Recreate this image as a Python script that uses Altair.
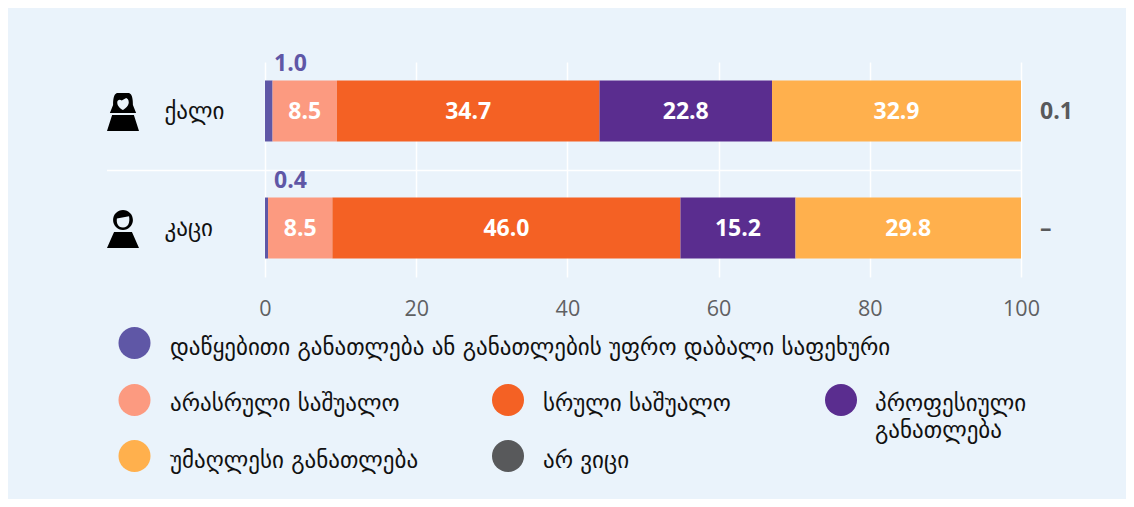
import altair as alt
import pandas as pd

groups = ["ქალი", "კაცი"]
categories = [
    "დაწყებითი განათლება ან განათლების უფრო დაბალი საფეხური",
    "არასრული საშუალო",
    "სრული საშუალო",
    "პროფესიული\nგანათლება",
    "უმაღლესი განათლება",
    "არ ვიცი",
]
colors = ["#5F57A6", "#FC9A80", "#F46124", "#5A2D8F", "#FFB04D", "#58595B"]
women = [1.0, 8.5, 34.7, 22.8, 32.9, 0.1]
men = [0.4, 8.5, 46.0, 15.2, 29.8, 0.0]
tick_values = [0, 20, 40, 60, 80, 100]
outside_labels_left = ["1.0", "0.4"]
outside_labels_right = ["0.1", "–"]

BG = "#EAF3FB"
FONT = "Open Sans"
GEO = "DejaVu Sans"

rows = []
for g, vals in zip(groups, [women, men]):
    for i, (c, v) in enumerate(zip(categories, vals)):
        rows.append({"group": g, "cat": c, "order": i, "value": v})
df = pd.DataFrame(rows)

y_enc = alt.Y(
    "group:N",
    sort=groups,
    scale=alt.Scale(paddingInner=0.521, paddingOuter=0.179),
    axis=alt.Axis(
        title=None, domain=False, ticks=False, grid=False,
        labelAlign="left", labelPadding=101, labelFont=GEO, labelOffset=1,
        labelFontSize=23, labelColor="#111111", labelLimit=200,
    ),
)
x_scale = alt.Scale(domain=[0, 1], nice=False)

# The bars fill the full width; the "don't know" share is only shown as a label at the right.
bars = alt.Chart(df).transform_filter("datum.order < 5").mark_bar(size=61, clip=False).encode(
    x=alt.X(
        "value:Q",
        stack="normalize",
        scale=x_scale,
        axis=alt.Axis(
            title=None, values=[t / 100 for t in tick_values], domain=False, ticks=False,
            grid=True, gridColor="#FFFFFF", gridWidth=1.5, gridOpacity=1,
            labelExpr="format(datum.value * 100, 'd')",
            labelFont=FONT, labelFontSize=21.5, labelColor="#5F6062",
            labelPadding=21, labelFlush=False,
        ),
    ),
    y=y_enc,
    color=alt.Color("cat:N", sort=categories,
                    scale=alt.Scale(domain=categories, range=colors), legend=None),
    order=alt.Order("order:Q"),
)

bar_labels = alt.Chart(df).transform_filter("datum.order < 5").transform_stack(
    stack="value", sort=[alt.SortField("order")], groupby=["group"], as_=["v0", "v1"],
    offset="normalize",
).transform_calculate(mid="(datum.v0+datum.v1)/2").transform_filter(
    "datum.order>=1 && datum.order<=4"
).mark_text(font=FONT, fontSize=23, fontWeight="bold", color="white", dy=1).encode(
    x=alt.X("mid:Q", scale=x_scale),
    y=alt.Y("group:N", sort=groups),
    text=alt.Text("value:Q", format=".1f"),
)

left_df = pd.DataFrame({"group": groups, "label": outside_labels_left})
left_labels = alt.Chart(left_df).mark_text(
    font=FONT, fontSize=23, fontWeight="bold", color=colors[0], align="left", dx=9, dy=-47
).encode(x=alt.datum(0, scale=x_scale), y=alt.Y("group:N", sort=groups), text="label:N")

right_df = pd.DataFrame({"group": groups, "label": outside_labels_right})
right_labels = alt.Chart(right_df).mark_text(
    font=FONT, fontSize=23, fontWeight="bold", color=colors[5], align="left", dx=19, dy=1
).encode(x=alt.datum(1, scale=x_scale), y=alt.Y("group:N", sort=groups), text="label:N")

separator = alt.Chart(pd.DataFrame({"a": [0]})).mark_rule(color="#FFFFFF", strokeWidth=1.5).encode(
    x=alt.value(-158), x2=alt.value(756), y=alt.value(108.5)
)

woman_path = (
    "M-0.19 -0.59 C-0.29 -0.55 -0.31 -0.4 -0.31 -0.22 L-0.41 0.03 L0.41 0.03 "
    "L0.31 -0.22 C0.31 -0.4 0.29 -0.55 0.19 -0.59 Z "
    "M-0.34 0.09 L0.34 0.09 L0.5 0.59 L-0.5 0.59 Z"
)
woman_face = (
    "M0 -0.06 C-0.09 -0.12 -0.18 -0.18 -0.18 -0.3 C-0.18 -0.38 -0.1 -0.41 -0.04 -0.36 "
    "L0.1 -0.44 C0.18 -0.4 0.18 -0.34 0.18 -0.28 C0.16 -0.18 0.09 -0.12 0 -0.06 Z"
)
man_path = (
    "M-0.31 -0.28 A0.31 0.31 0 1 1 0.31 -0.28 A0.31 0.31 0 1 1 -0.31 -0.28 Z "
    "M-0.28 0.09 L0.28 0.09 L0.5 0.59 L-0.5 0.59 Z"
)
man_face = (
    "M-0.19 -0.33 L0.19 -0.4 C0.22 -0.2 0.17 -0.05 0 -0.05 C-0.17 -0.05 -0.21 -0.2 -0.19 -0.33 Z"
)


def icon(path, color, y_pos):
    return alt.Chart(pd.DataFrame({"a": [0]})).mark_point(
        shape=path, filled=True, fill=color, stroke=None, opacity=1, size=4096
    ).encode(x=alt.value(-142), y=alt.value(y_pos))


icons = [
    icon(woman_path, "#000000", 50),
    icon(woman_face, BG, 50),
    icon(man_path, "#000000", 167),
    icon(man_face, BG, 167),
]

circle_positions = [(-130.5, 281), (-130.5, 338), (243, 338), (576, 338), (-130.5, 394), (243, 394)]
text_positions = [(-95, 292.5), (-95, 348.5), (278, 348.5), (610, 348.5), (-95, 406), (278, 406)]
legend_layers = []
for name, col, (cx, cy), (tx, ty) in zip(categories, colors, circle_positions, text_positions):
    base = alt.Chart(pd.DataFrame({"label": [name]}))
    legend_layers.append(
        base.mark_circle(size=1024, color=col, opacity=1).encode(x=alt.value(cx), y=alt.value(cy))
    )
    legend_layers.append(
        base.mark_text(
            font=GEO, fontSize=23, color="#111111", align="left", baseline="alphabetic",
            lineBreak="\n", lineHeight=27,
        ).encode(x=alt.value(tx), y=alt.value(ty), text="label:N")
    )

chart = alt.layer(
    bars, separator, bar_labels, left_labels, right_labels, *icons, *legend_layers
).properties(
    width=756,
    height=215,
    background=BG,
    autosize=alt.AutoSizeParams(type="none"),
    padding={"left": 257, "top": 54, "right": 105, "bottom": 222},
).configure_view(stroke=None)

chart.save("out.html", embed_options={"renderer": "svg", "actions": False})
